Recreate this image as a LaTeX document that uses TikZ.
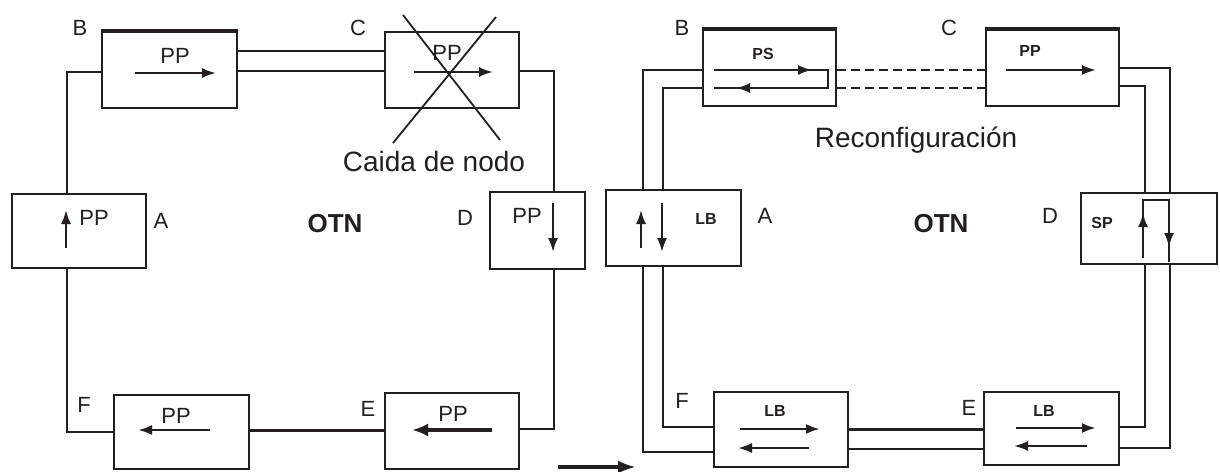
\documentclass[tikz,border=0pt]{standalone}
\usepackage{fontspec}
\setmainfont{Liberation Sans}
\usetikzlibrary{arrows.meta}
\definecolor{ink}{RGB}{35,31,32}
\begin{document}
\begin{tikzpicture}[x=1pt,y=-1pt,
  box/.style={draw=ink, line width=2.4pt, inner sep=0pt},
  wire/.style={draw=ink, line width=2pt},
  arr/.style={draw=ink, line width=2.2pt, -{Latex[length=14pt,width=10pt]}},
  mid/.style={font=\fontsize{22}{24}\selectfont, inner sep=0pt, anchor=base, text=ink},
  big/.style={font=\fontsize{28}{30}\selectfont, inner sep=0pt, anchor=base, text=ink},
  sm/.style={font=\bfseries\fontsize{16}{18}\selectfont, inner sep=0pt, anchor=base, text=ink}]
\fill[white] (0,0) rectangle (1220,471);
\useasboundingbox (0,0) rectangle (1220,471);

% ---------- left ring boxes ----------
\node[box, minimum width=134pt, minimum height=74pt] (AL) at (79,231) {};
\node[box, minimum width=135pt, minimum height=76pt] (BL) at (169.5,70) {};
\node[box, minimum width=134pt, minimum height=76pt] (CL) at (452,70) {};
\node[box, minimum width=95pt,  minimum height=77pt] (DL) at (537.5,230.5) {};
\node[box, minimum width=134pt, minimum height=76pt] (EL) at (452,431) {};
\node[box, minimum width=135pt, minimum height=74pt] (FL) at (181.5,432) {};
\draw[ink, line width=3.8pt] (BL.north west) -- (BL.north east);

% ---------- right ring boxes ----------
\node[box, minimum width=135pt, minimum height=76pt] (AR) at (673.5,228) {};
\node[box, minimum width=133pt, minimum height=76pt] (BR) at (769.5,68) {};
\node[box, minimum width=133pt, minimum height=76pt] (CR) at (1052.5,68) {};
\node[box, minimum width=136pt, minimum height=71pt] (DR) at (1149,228.5) {};
\node[box, minimum width=135pt, minimum height=73pt] (ER) at (1051.5,428.5) {};
\node[box, minimum width=134pt, minimum height=75pt] (FR) at (781,429.5) {};
\draw[ink, line width=3.8pt] (BR.north west) -- (BR.north east);
\draw[ink, line width=3.8pt] (CR.north west) -- (CR.north east);

% ---------- left ring wires ----------
\draw[wire] (AL.north -| 67,0) |- (BL.west |- 0,72);
\draw[wire] (BL.east |- 0,51) -- (CL.west |- 0,51);
\draw[wire] (BL.east |- 0,71) -- (CL.west |- 0,71);
\draw[wire] (CL.east |- 0,71) -| (DL.north -| 554,0);
\draw[wire] (DL.south -| 554,0) |- (EL.east |- 0,429);
\draw[wire, line width=3pt] (EL.west |- 0,430) -- (FL.east |- 0,430);
\draw[wire] (FL.west |- 0,432) -| (AL.south -| 67,0);

% ---------- right ring wires ----------
\draw[wire] (AR.north -| 643,0) |- (BR.west |- 0,70);
\draw[wire] (AR.north -| 662.5,0) |- (BR.west |- 0,88);
\draw[wire, line width=2.4pt, dash pattern=on 9pt off 5pt] (BR.east |- 0,70) -- (CR.west |- 0,70);
\draw[wire, line width=2.4pt, dash pattern=on 9pt off 5pt] (BR.east |- 0,88) -- (CR.west |- 0,88);
\draw[wire] (CR.east |- 0,68) -| (DR.north -| 1170,0);
\draw[wire] (CR.east |- 0,86) -| (DR.north -| 1145,0);
\draw[wire] (DR.south -| 1145,0) |- (ER.east |- 0,427);
\draw[wire] (DR.south -| 1170,0) |- (ER.east |- 0,448);
\draw[wire, line width=3pt] (ER.west |- 0,429) -- (FR.east |- 0,429);
\draw[wire] (ER.west |- 0,449) -- (FR.east |- 0,449);
\draw[wire] (FR.west |- 0,427) -| (AR.south -| 662.5,0);
\draw[wire] (FR.west |- 0,452) -| (AR.south -| 643,0);

% ---------- arrows inside left boxes ----------
\draw[arr] (66,248) -- (66,210);
\draw[arr] (135,73) -- (216,73);
\draw[arr] (414,72) -- (493,72);
\draw[arr] (553,203) -- (553,252);
\draw[arr, line width=3.2pt, -{Latex[length=16pt,width=13pt]}] (492,430) -- (412,430);
\draw[arr, line width=2.6pt] (210,430) -- (138,430);

% ---------- arrows inside right boxes ----------
\draw[arr] (641,248) -- (641,210);
\draw[arr] (662,203) -- (662,252);
\draw[ink, line width=2.2pt] (714,70) -- (828,70) -- (828,88) -- (714,88);
\draw[arr] (790,70) -- (812,70);
\draw[arr] (760,88) -- (736,88);
\draw[arr] (1006,70) -- (1096,70);
\draw[ink, line width=2.2pt] (1143,258) -- (1143,200) -- (1169,200) -- (1169,262);
\draw[arr] (1143,238) -- (1143,213);
\draw[arr] (1169,222) -- (1169,247);
\draw[arr, line width=2.6pt] (1016,428) -- (1096,428);
\draw[arr] (1087,446) -- (1014,446);
\draw[arr, line width=2.6pt] (740,429) -- (820,429);
\draw[arr] (809,448) -- (738,448);

% ---------- failed node cross ----------
\draw[ink, line width=1.8pt] (403,15) -- (500,140);
\draw[ink, line width=1.8pt] (496,17) -- (393,143);

% ---------- bottom arrow ----------
\coordinate (s) at (558,467);
\coordinate (t) at (636,467);
\draw[ink, line width=3.5pt, -{Latex[length=18pt,width=13pt]}] (s) -- (t);

% ---------- labels left ----------
\node[mid] (lbB) at (80,35) {B};
\node[mid] (lbC) at (358,35) {C};
\node[mid] (lbA) at (161,228) {A};
\node[mid] (lbD) at (465,225) {D};
\node[mid] (lbE) at (368,416) {E};
\node[mid] (lbF) at (84,412) {F};
\node[mid] (ppB) at (175,63) {PP};
\node[mid] (ppC) at (447,60) {PP};
\node[mid] (ppA) at (94,225) {PP};
\node[mid] (ppD) at (527,223) {PP};
\node[mid] (ppE) at (453,421) {PP};
\node[mid] (ppF) at (176,423) {PP};
\node[big, font=\bfseries\fontsize{26}{30}\selectfont] (otnL) at (335,232) {OTN};
\node[big] (caida) at (434,171) {Caida de nodo};

% ---------- labels right ----------
\node[mid] (rbB) at (682,35) {B};
\node[mid] (rbC) at (949,35) {C};
\node[mid] (rbA) at (765,223) {A};
\node[mid] (rbD) at (1050,223) {D};
\node[mid] (rbE) at (969,415) {E};
\node[mid] (rbF) at (682,408) {F};
\node[sm] (psB) at (763,59) {PS};
\node[sm] (ppCR) at (1030,56) {PP};
\node[sm] (lbAR) at (706,224) {LB};
\node[sm] (spD) at (1102,228) {SP};
\node[sm] (lbER) at (1044,416) {LB};
\node[sm] (lbFR) at (775,416) {LB};
\node[big, font=\bfseries\fontsize{26}{30}\selectfont] (otnR) at (941,232) {OTN};
\node[big] (reconf) at (916,147) {Reconfiguración};
\end{tikzpicture}
\end{document}
